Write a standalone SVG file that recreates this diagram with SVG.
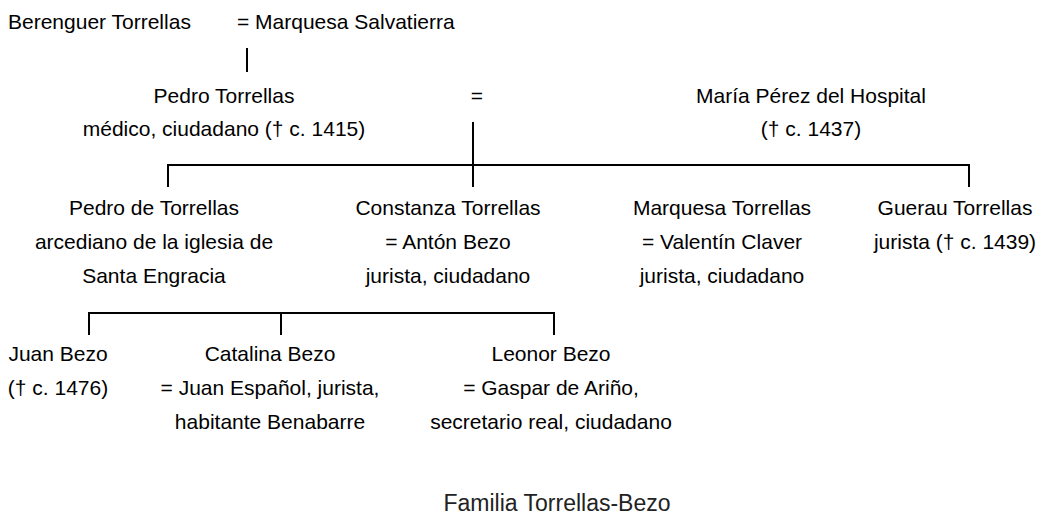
<svg xmlns="http://www.w3.org/2000/svg" width="1041" height="518" viewBox="0 0 1041 518">
<style>
text{font-family:"Liberation Sans",Arial,sans-serif;font-size:21px;fill:#000}
.c{text-anchor:middle}
.ln{stroke:#000;stroke-width:2;fill:none}
.title{font-family:"Liberation Sans",Arial,sans-serif;font-size:23px;fill:#222;text-anchor:middle}
</style>
<rect width="1041" height="518" fill="#fff"/>
<g id="connectors">
<path class="ln" d="M247 48V72"/>
<path class="ln" d="M473 122V187"/>
<path class="ln" d="M168 187V165H969V187"/>
<path class="ln" d="M89 335V313H554V335"/>
<path class="ln" d="M281 313V335"/>
</g>
<g id="berenguer"><text x="8" y="29">Berenguer Torrellas</text></g>
<g id="marquesa-salvatierra"><text x="237" y="29">= Marquesa Salvatierra</text></g>
<g id="pedro-torrellas"><text class="c" x="224" y="103">Pedro Torrellas</text><text class="c" x="224" y="136">médico, ciudadano († c. 1415)</text></g>
<g id="marriage"><text class="c" x="477" y="103">=</text></g>
<g id="maria-perez"><text class="c" x="811" y="103">María Pérez del Hospital</text><text class="c" x="811" y="136">(† c. 1437)</text></g>
<g id="pedro-de-torrellas"><text class="c" x="154" y="215">Pedro de Torrellas</text><text class="c" x="154" y="249">arcediano de la iglesia de</text><text class="c" x="154" y="283">Santa Engracia</text></g>
<g id="constanza"><text class="c" x="448" y="215">Constanza Torrellas</text><text class="c" x="448" y="249">= Antón Bezo</text><text class="c" x="448" y="283">jurista, ciudadano</text></g>
<g id="marquesa-torrellas"><text class="c" x="722" y="215">Marquesa Torrellas</text><text class="c" x="722" y="249">= Valentín Claver</text><text class="c" x="722" y="283">jurista, ciudadano</text></g>
<g id="guerau"><text class="c" x="955" y="215">Guerau Torrellas</text><text class="c" x="955" y="249">jurista († c. 1439)</text></g>
<g id="juan-bezo"><text class="c" x="58" y="361">Juan Bezo</text><text class="c" x="58" y="395">(† c. 1476)</text></g>
<g id="catalina"><text class="c" x="270" y="361">Catalina Bezo</text><text class="c" x="270" y="395">= Juan Español, jurista,</text><text class="c" x="270" y="429">habitante Benabarre</text></g>
<g id="leonor"><text class="c" x="551" y="361">Leonor Bezo</text><text class="c" x="551" y="395">= Gaspar de Ariño,</text><text class="c" x="551" y="429">secretario real, ciudadano</text></g>
<g id="title"><text class="title" x="557" y="511">Familia Torrellas-Bezo</text></g>
</svg>
